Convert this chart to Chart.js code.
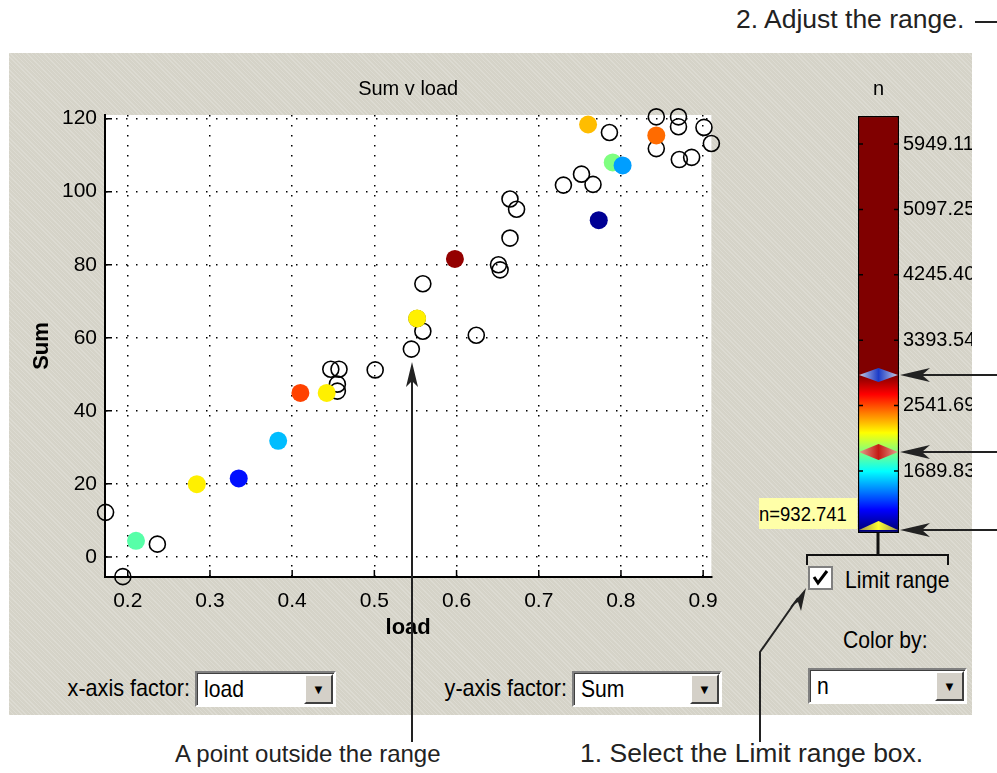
<!DOCTYPE html>
<html lang="en">
<head>
<meta charset="UTF-8">
<title>Sum v load</title>
<script src="https://cdn.jsdelivr.net/npm/chart.js"></script>
<style>
    body {
        margin: 0;
        width: 997px;
        height: 773px;
        position: relative;
        overflow: hidden;
        background: #fff;
        font-family: 'Liberation Sans', Arial, sans-serif;
    }
    #panel {
        position: absolute;
        left: 9px; top: 53px; width: 963px; height: 662px;
        background: #d5d3c8 repeating-linear-gradient(45deg, rgba(255,255,255,0.18) 0 1px, rgba(0,0,0,0) 1px 3px);
    }
    .abs { position: absolute; }
    .gui { font-family: 'Liberation Sans', Arial, sans-serif; font-size: 24px; color: #000; white-space: nowrap; }
    .narrow { transform: scaleX(0.88); transform-origin: left center; }
    .narrowR { transform: scaleX(0.9); transform-origin: right center; }
    .note { font-family: 'Liberation Sans', Arial, sans-serif; font-size: 24px; color: #222; white-space: nowrap; }
    .drop {
        position: absolute; background: #fff; box-sizing: border-box;
        border-top: 2px solid #808080; border-left: 2px solid #808080;
        border-bottom: 2px solid #fff; border-right: 2px solid #fff;
        box-shadow: inset 1px 1px 0 #404040;
    }
    .drop span { position: absolute; left: 7px; top: 2px; transform: scaleX(0.88); transform-origin: left center; }
    .drop .btn {
        position: absolute; right: 1px; top: 1px; bottom: 1px; width: 29px;
        background: #d4d0c8; box-sizing: border-box;
        border-top: 2px solid #fff; border-left: 2px solid #fff;
        border-bottom: 2px solid #404040; border-right: 2px solid #404040;
        font-size: 13px; text-align: center; line-height: 28px;
    }
    #tip {
        left: 759px; top: 498px; width: 98px; height: 31px;
        background: #ffffa8; font-size: 21px; line-height: 31px; z-index: 5;
    }
    canvas { position: absolute; }
    svg { position: absolute; left: 0; top: 0; z-index: 6; }
</style>
</head>
<body>
<div id="panel"></div>

<canvas id="mainChart" width="730" height="600" style="left:0;top:60px"></canvas>
<canvas id="barChart" width="122" height="500" style="left:850px;top:60px"></canvas>

<div id="tip" class="abs gui"><div class="narrow">n=932.741</div></div>

<div class="abs gui narrow" style="left:845px;top:566px">Limit range</div>
<div class="abs gui narrow" style="left:843px;top:626px">Color by:</div>
<div class="abs gui narrowR" style="right:807px;top:674px">x-axis factor:</div>
<div class="abs gui narrowR" style="right:430px;top:674px">y-axis factor:</div>

<div class="drop gui" style="left:195px;top:671px;width:141px;height:36px"><span>load</span><div class="btn">&#9660;</div></div>
<div class="drop gui" style="left:572px;top:671px;width:150px;height:36px"><span>Sum</span><div class="btn">&#9660;</div></div>
<div class="drop gui" style="left:808px;top:668px;width:159px;height:36px"><span>n</span><div class="btn">&#9660;</div></div>

<div class="abs note" style="left:736px;top:4px;font-size:26.5px">2. Adjust the range.</div>
<div class="abs note" style="left:175px;top:740px">A point outside the range</div>
<div class="abs note" style="left:580px;top:738px;font-size:26.5px">1. Select the Limit range box.</div>

<svg width="997" height="773">
    <!-- checkbox -->
    <rect x="809" y="567" width="23" height="22" fill="#fff" stroke="#808080" stroke-width="2"/>
    <polyline points="814,577 818,583 827,571" fill="none" stroke="#000" stroke-width="3"/>
    <!-- bracket under the colour bar -->
    <line x1="878" y1="533" x2="878" y2="555" stroke="#111" stroke-width="3"/>
    <polyline points="807,565 807,555 948,555 948,565" fill="none" stroke="#111" stroke-width="2"/>
    <!-- annotation arrows -->
    <line x1="975" y1="22" x2="997" y2="22" stroke="#222" stroke-width="2"/>
    <g stroke="#222" stroke-width="2" fill="#222">
        <line x1="997" y1="375" x2="915" y2="375"/>
        <polygon points="900,375 930,368 922,375 930,382" stroke="none"/>
        <line x1="997" y1="452" x2="915" y2="452"/>
        <polygon points="900,452 930,445 922,452 930,459" stroke="none"/>
        <line x1="997" y1="530" x2="915" y2="530"/>
        <polygon points="900,530 930,523 922,530 930,537" stroke="none"/>
        <line x1="412" y1="742" x2="412" y2="378"/>
        <polygon points="412,362 406,387 412,381 418,387" stroke="none"/>
        <polyline points="760,742 760,652 798,598" fill="none"/>
        <polygon points="806,588 790,607 798,602 801,611" stroke="none"/>
    </g>
</svg>

<script>
    const FONT = "'Liberation Sans', Arial, sans-serif";

    // points whose n lies outside the limited range (drawn as empty circles)
    const outLoad = [0.173, 0.194, 0.236, 0.447, 0.457, 0.455, 0.455, 0.501, 0.545, 0.552,
                     0.559, 0.559, 0.624, 0.651, 0.653, 0.665, 0.673, 0.665, 0.730, 0.752,
                     0.766, 0.786, 0.843, 0.843, 0.870, 0.870, 0.871, 0.886, 0.901, 0.910];
    const outSum  = [12.2, -5.4, 3.5, 51.4, 51.4, 47.3, 45.4, 51.2, 56.9, 65.3,
                     61.8, 74.8, 60.7, 80.0, 78.6, 98.0, 95.2, 87.3, 101.8, 104.8,
                     102.0, 116.2, 120.5, 111.8, 120.5, 117.8, 108.8, 109.4, 117.6, 113.2];

    // points inside the range, coloured by n
    const inLoad = [0.210, 0.284, 0.335, 0.383, 0.410, 0.442, 0.552, 0.598, 0.760, 0.790, 0.802, 0.773, 0.843];
    const inSum  = [4.4, 19.9, 21.5, 31.8, 44.9, 44.9, 65.3, 81.6, 118.4, 108.0, 107.2, 92.2, 115.4];
    const inN    = [1856, 2217, 1214, 1555, 2559, 2217, 2217, 2900, 2318, 1936, 1495, 973, 2478];

    // colour bar
    const nMin = 882, nMax = 6314;
    const nLow = 932.741, nHigh = 2940;
    const barTicks = [1689.83, 2541.69, 3393.54, 4245.40, 5097.25, 5949.11];

    function clamp(v) { return Math.max(0, Math.min(1, v)); }
    function jet(t) {
        t = clamp(t);
        const r = clamp(1.5 - Math.abs(4 * t - 3));
        const g = clamp(1.5 - Math.abs(4 * t - 2));
        const b = clamp(1.5 - Math.abs(4 * t - 1));
        return `rgb(${Math.round(r * 255)},${Math.round(g * 255)},${Math.round(b * 255)})`;
    }
    const nColor = n => jet((n - nLow) / (nHigh - nLow));

    Chart.defaults.font.family = FONT;
    Chart.defaults.color = '#000';

    // white axes background + inward tick marks, MATLAB style
    const axesPlugin = {
        id: 'axesBox',
        beforeDraw(chart) {
            const {ctx, chartArea: a} = chart;
            ctx.save();
            ctx.fillStyle = '#fff';
            ctx.fillRect(a.left, a.top, a.right - a.left, a.bottom - a.top);
            ctx.restore();
        },
        beforeDatasetsDraw(chart) {
            const {ctx, chartArea: a, scales} = chart;
            ctx.save();
            ctx.strokeStyle = '#000';
            ctx.lineWidth = 1.5;
            ctx.beginPath();
            scales.x.ticks.forEach(t => {
                const px = scales.x.getPixelForValue(t.value);
                ctx.moveTo(px, a.bottom); ctx.lineTo(px, a.bottom - 7);
            });
            scales.y.ticks.forEach(t => {
                const py = scales.y.getPixelForValue(t.value);
                ctx.moveTo(a.left, py); ctx.lineTo(a.left + 7, py);
            });
            ctx.stroke();
            ctx.restore();
        }
    };

    const axisFont = {size: 21, family: FONT};
    new Chart(document.getElementById('mainChart'), {
        type: 'scatter',
        data: {
            datasets: [{
                data: inLoad.map((x, i) => ({x: x, y: inSum[i]})),
                pointRadius: 9,
                pointBackgroundColor: inN.map(nColor),
                pointBorderColor: inN.map(nColor),
                pointBorderWidth: 0,
                clip: false
            }, {
                data: outLoad.map((x, i) => ({x: x, y: outSum[i]})),
                pointRadius: 8,
                pointBackgroundColor: 'rgba(0,0,0,0)',
                pointBorderColor: '#000',
                pointBorderWidth: 1.6,
                clip: false
            }]
        },
        options: {
            responsive: false,
            animation: false,
            layout: {padding: {top: 0, right: 12, left: 0, bottom: 0}},
            plugins: {
                legend: {display: false},
                tooltip: {enabled: false},
                title: {
                    display: true, text: 'Sum v load', fullSize: false,
                    font: {size: 20, weight: 'normal', family: FONT}, color: '#000',
                    padding: {top: 17, bottom: 14}
                }
            },
            scales: {
                x: {
                    type: 'linear', min: 0.1723, max: 0.91,
                    ticks: {stepSize: 0.1, includeBounds: false, padding: 12, font: axisFont,
                            callback: v => v.toFixed(1)},
                    grid: {color: '#000', lineWidth: 1.5, drawTicks: false},
                    border: {color: '#000', width: 2, dash: [1.5, 8.5]},
                    title: {display: true, text: 'load', font: {size: 22, weight: 'bold', family: FONT},
                            padding: {top: 0, bottom: 19}},
                    afterFit: s => { s.height = 83; }
                },
                y: {
                    type: 'linear', min: -5.5, max: 121,
                    ticks: {stepSize: 20, includeBounds: false, padding: 8, font: axisFont},
                    grid: {color: '#000', lineWidth: 1.5, drawTicks: false},
                    border: {color: '#000', width: 2, dash: [1.5, 8.5]},
                    title: {display: true, text: 'Sum', font: {size: 22, weight: 'bold', family: FONT},
                            padding: {top: 29, bottom: 0}},
                    afterFit: s => { s.width = 105; }
                }
            }
        },
        plugins: [axesPlugin]
    });

    // colour bar: one floating bar from nMin to nMax, jet between the sliders
    function barGradient(context) {
        const chart = context.chart;
        if (!chart.chartArea) return '#800000';
        const y = chart.scales.y;
        const g = chart.ctx.createLinearGradient(0, y.getPixelForValue(nLow), 0, y.getPixelForValue(nHigh));
        for (let i = 0; i <= 32; i++) g.addColorStop(i / 32, jet(i / 32));
        return g;
    }

    function diamond(ctx, cx, py, half, hh, edge, mid) {
        const g = ctx.createLinearGradient(cx - half, 0, cx + half, 0);
        g.addColorStop(0, edge); g.addColorStop(0.5, mid); g.addColorStop(1, edge);
        ctx.fillStyle = g;
        ctx.beginPath();
        ctx.moveTo(cx - half, py); ctx.lineTo(cx, py - hh);
        ctx.lineTo(cx + half, py); ctx.lineTo(cx, py + hh);
        ctx.closePath(); ctx.fill();
    }

    const sliderPlugin = {
        id: 'sliders',
        afterDatasetsDraw(chart) {
            const {ctx, chartArea: a, scales} = chart;
            const y = scales.y;
            const cx = (a.left + a.right) / 2, half = (a.right - a.left) / 2 - 1;
            ctx.save();
            // tick marks on both sides of the bar
            ctx.strokeStyle = '#000';
            ctx.lineWidth = 1.5;
            ctx.beginPath();
            barTicks.forEach(v => {
                const py = y.getPixelForValue(v);
                ctx.moveTo(a.left, py); ctx.lineTo(a.left + 5, py);
                ctx.moveTo(a.right - 5, py); ctx.lineTo(a.right, py);
            });
            ctx.stroke();
            diamond(ctx, cx, y.getPixelForValue(nHigh), half, 7, '#c8cde0', '#1c3cc8');
            diamond(ctx, cx, y.getPixelForValue((nLow + nHigh) / 2), half, 8, '#e4a08e', '#c41a14');
            const pl = y.getPixelForValue(nLow);
            const g = ctx.createLinearGradient(cx - half, 0, cx + half, 0);
            g.addColorStop(0, '#9a9050'); g.addColorStop(0.5, '#ffff30'); g.addColorStop(1, '#9a9050');
            ctx.fillStyle = g;
            ctx.beginPath();
            ctx.moveTo(cx - half, pl + 1); ctx.lineTo(cx, pl - 8); ctx.lineTo(cx + half, pl + 1);
            ctx.closePath(); ctx.fill();
            ctx.restore();
        }
    };

    new Chart(document.getElementById('barChart'), {
        type: 'bar',
        data: {
            labels: ['n'],
            datasets: [{
                data: [[nMin, nMax]],
                backgroundColor: barGradient,
                borderColor: '#000',
                borderWidth: 1.5,
                borderSkipped: false,
                barPercentage: 1,
                categoryPercentage: 1
            }]
        },
        options: {
            responsive: false,
            animation: false,
            layout: {padding: {left: 8, top: 0, bottom: 27, right: 0}},
            plugins: {
                legend: {display: false},
                tooltip: {enabled: false},
                title: {
                    display: true, text: 'n', fullSize: false,
                    font: {size: 20, weight: 'normal', family: FONT}, color: '#000',
                    padding: {top: 17, bottom: 15}
                }
            },
            scales: {
                x: {display: false},
                y: {
                    position: 'right', min: nMin, max: nMax,
                    afterBuildTicks: s => { s.ticks = barTicks.map(v => ({value: v})); },
                    ticks: {padding: 4, font: {size: 20, family: FONT}, callback: v => v.toFixed(2)},
                    grid: {display: false, drawTicks: false},
                    border: {display: false},
                    afterFit: s => { s.width = 73; }
                }
            }
        },
        plugins: [sliderPlugin]
    });
</script>
</body>
</html>
